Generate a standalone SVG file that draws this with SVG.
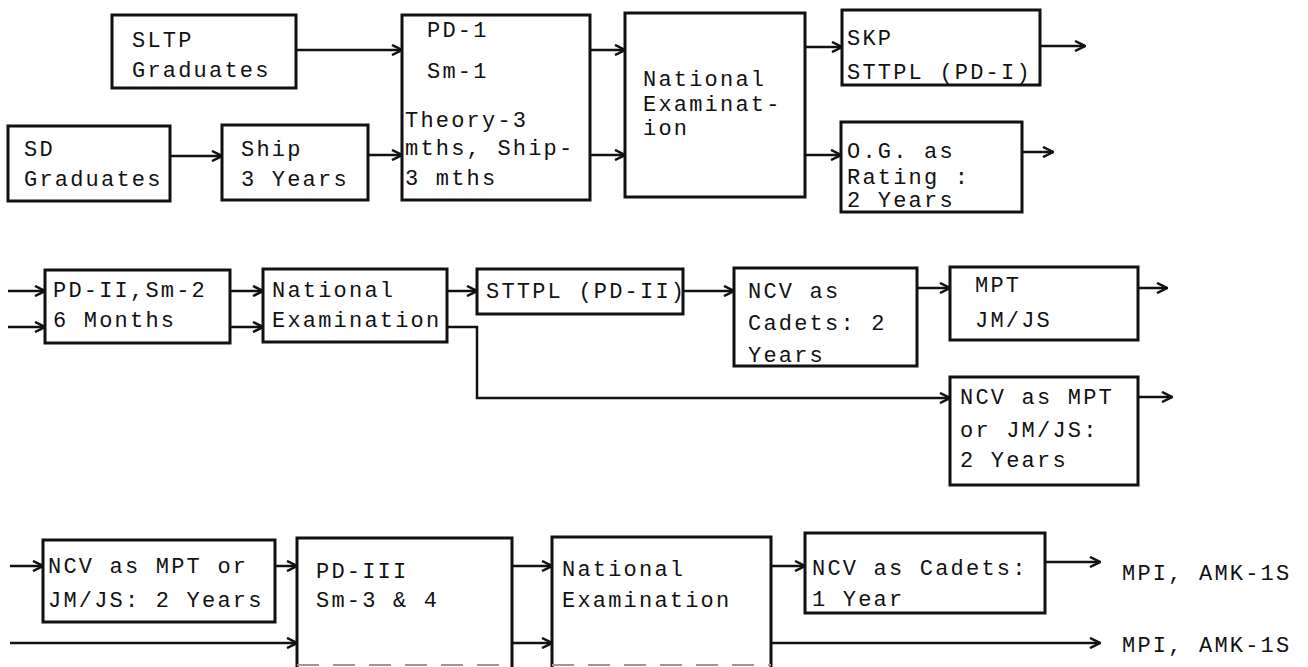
<svg xmlns="http://www.w3.org/2000/svg" width="1308" height="667" viewBox="0 0 1308 667">
<style>
.box{fill:#fff;stroke:#111;stroke-width:3}
.open{fill:none;stroke:#111;stroke-width:3}
.faint{fill:none;stroke:#999;stroke-width:2;stroke-dasharray:22 14}
.t{font-family:"Liberation Mono","DejaVu Sans Mono",monospace;font-size:22px;letter-spacing:2.2px;fill:#111}
.c{fill:none;stroke:#111;stroke-width:2.5;marker-end:url(#arr)}
</style>
<defs>
<marker id="arr" viewBox="0 0 12 12" refX="11" refY="6" markerWidth="12" markerHeight="12" markerUnits="userSpaceOnUse" orient="auto">
<path d="M1,1 L11,6 L1,11" fill="none" stroke="#111" stroke-width="2.5"/>
</marker>
</defs>
<rect width="1308" height="667" fill="#fff"/>

<g id="connectors">
<!-- row 1 -->
<line class="c" x1="296" y1="50" x2="402" y2="50"/>
<line class="c" x1="170" y1="156" x2="222" y2="156"/>
<line class="c" x1="368" y1="155" x2="402" y2="155"/>
<line class="c" x1="590" y1="50" x2="625" y2="50"/>
<line class="c" x1="590" y1="155" x2="625" y2="155"/>
<line class="c" x1="805" y1="47" x2="842" y2="47"/>
<line class="c" x1="805" y1="155" x2="841" y2="155"/>
<line class="c" x1="1040" y1="46" x2="1085" y2="46"/>
<line class="c" x1="1022" y1="152" x2="1053" y2="152"/>
<!-- row 2 -->
<line class="c" x1="8" y1="291" x2="45" y2="291"/>
<line class="c" x1="8" y1="327" x2="45" y2="327"/>
<line class="c" x1="230" y1="291" x2="263" y2="291"/>
<line class="c" x1="230" y1="327" x2="263" y2="327"/>
<line class="c" x1="447" y1="291" x2="477" y2="291"/>
<line class="c" x1="683" y1="291" x2="734" y2="291"/>
<line class="c" x1="917" y1="288" x2="950" y2="288"/>
<line class="c" x1="1138" y1="288" x2="1167" y2="288"/>
<polyline class="c" points="447,327 477,327 477,398 950,398"/>
<line class="c" x1="1138" y1="397" x2="1172" y2="397"/>
<!-- row 3 -->
<line class="c" x1="10" y1="566" x2="43" y2="566"/>
<line class="c" x1="275" y1="566" x2="297" y2="566"/>
<line class="c" x1="10" y1="643" x2="297" y2="643"/>
<line class="c" x1="512" y1="566" x2="552" y2="566"/>
<line class="c" x1="512" y1="643" x2="552" y2="643"/>
<line class="c" x1="771" y1="566" x2="805" y2="566"/>
<line class="c" x1="1045" y1="562" x2="1100" y2="562"/>
<line class="c" x1="771" y1="643" x2="1100" y2="643"/>
</g>

<g id="sltp">
<rect class="box" x="112" y="15" width="184" height="73"/>
<text class="t"><tspan x="132" y="47">SLTP</tspan><tspan x="132" y="77">Graduates</tspan></text>
</g>
<g id="sd">
<rect class="box" x="8" y="126" width="162" height="75"/>
<text class="t"><tspan x="24" y="156">SD</tspan><tspan x="24" y="186">Graduates</tspan></text>
</g>
<g id="ship">
<rect class="box" x="222" y="125" width="146" height="75"/>
<text class="t"><tspan x="241" y="156">Ship</tspan><tspan x="241" y="186">3 Years</tspan></text>
</g>
<g id="pd1">
<rect class="box" x="402" y="15" width="188" height="185"/>
<text class="t"><tspan x="427" y="37">PD-1</tspan><tspan x="427" y="78">Sm-1</tspan><tspan x="405" y="127">Theory-3</tspan><tspan x="405" y="155">mths, Ship-</tspan><tspan x="405" y="185">3 mths</tspan></text>
</g>
<g id="natexam1">
<rect class="box" x="625" y="13" width="180" height="184"/>
<text class="t"><tspan x="643" y="86">National</tspan><tspan x="643" y="111">Examinat-</tspan><tspan x="643" y="135">ion</tspan></text>
</g>
<g id="skp">
<rect class="box" x="842" y="10" width="198" height="75"/>
<text class="t"><tspan x="847" y="45">SKP</tspan><tspan x="847" y="79">STTPL (PD-I)</tspan></text>
</g>
<g id="og">
<rect class="box" x="841" y="122" width="181" height="90"/>
<text class="t"><tspan x="847" y="158">O.G. as</tspan><tspan x="847" y="184">Rating :</tspan><tspan x="847" y="207">2 Years</tspan></text>
</g>

<g id="pd2">
<rect class="box" x="45" y="270" width="185" height="73"/>
<text class="t"><tspan x="53" y="297">PD-II,Sm-2</tspan><tspan x="53" y="327">6 Months</tspan></text>
</g>
<g id="natexam2">
<rect class="box" x="263" y="269" width="184" height="73"/>
<text class="t"><tspan x="272" y="297">National</tspan><tspan x="272" y="327">Examination</tspan></text>
</g>
<g id="sttpl2">
<rect class="box" x="477" y="269" width="206" height="45"/>
<text class="t"><tspan x="486" y="298">STTPL (PD-II)</tspan></text>
</g>
<g id="ncvcadets2">
<rect class="box" x="734" y="268" width="183" height="98"/>
<text class="t"><tspan x="748" y="298">NCV as</tspan><tspan x="748" y="330">Cadets: 2</tspan><tspan x="748" y="362">Years</tspan></text>
</g>
<g id="mpt">
<rect class="box" x="950" y="267" width="188" height="73"/>
<text class="t"><tspan x="975" y="292">MPT</tspan><tspan x="975" y="327">JM/JS</tspan></text>
</g>
<g id="ncvmpt2">
<rect class="box" x="950" y="377" width="188" height="108"/>
<text class="t"><tspan x="960" y="404">NCV as MPT</tspan><tspan x="960" y="437">or JM/JS:</tspan><tspan x="960" y="467">2 Years</tspan></text>
</g>

<g id="ncvmpt3">
<rect class="box" x="43" y="540" width="232" height="82"/>
<text class="t"><tspan x="48" y="573">NCV as MPT or</tspan><tspan x="48" y="607">JM/JS: 2 Years</tspan></text>
</g>
<g id="pd3">
<path class="open" d="M297,667 V538 H512 V667"/>
<line class="faint" x1="297" y1="665" x2="512" y2="665"/>
<text class="t"><tspan x="316" y="578">PD-III</tspan><tspan x="316" y="607">Sm-3 &amp; 4</tspan></text>
</g>
<g id="natexam3">
<path class="open" d="M552,667 V537 H771 V667"/>
<line class="faint" x1="552" y1="665" x2="771" y2="665"/>
<text class="t"><tspan x="562" y="576">National</tspan><tspan x="562" y="607">Examination</tspan></text>
</g>
<g id="ncvcadets3">
<rect class="box" x="805" y="533" width="240" height="80"/>
<text class="t"><tspan x="812" y="575">NCV as Cadets:</tspan><tspan x="812" y="606">1 Year</tspan></text>
</g>
<g id="out1">
<text class="t" x="1122" y="580">MPI, AMK-1S</text>
</g>
<g id="out2">
<text class="t" x="1122" y="652">MPI, AMK-1S</text>
</g>
</svg>
